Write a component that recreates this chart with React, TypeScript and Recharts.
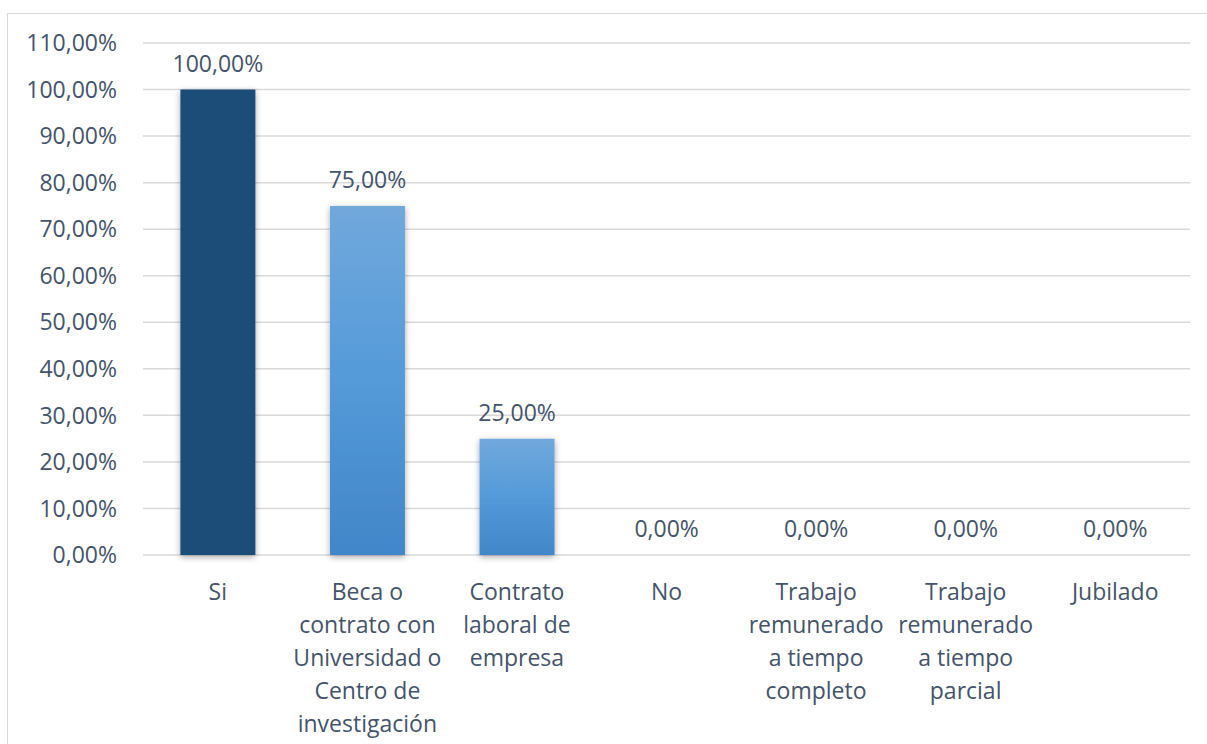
import { BarChart, Bar, XAxis, YAxis, CartesianGrid, Cell, LabelList } from "recharts";

const categories = [
  "Si",
  "Beca o\ncontrato con\nUniversidad o\nCentro de\ninvestigación",
  "Contrato\nlaboral de\nempresa",
  "No",
  "Trabajo\nremunerado\na tiempo\ncompleto",
  "Trabajo\nremunerado\na tiempo\nparcial",
  "Jubilado",
];
const values = [1.0, 0.75, 0.25, 0, 0, 0, 0];
const yTicks = [0, 0.1, 0.2, 0.3, 0.4, 0.5, 0.6, 0.7, 0.8, 0.9, 1.0, 1.1];

const data = categories.map((name, i) => ({ name, value: values[i] }));

const TEXT = "#44546A";
const FONT = "'Open Sans', sans-serif";

const fmt = (v: number) => (v * 100).toFixed(2).replace(".", ",") + "%";

function CategoryTick(props: any) {
  const { x, y, payload } = props;
  const lines = String(payload.value).split("\n");
  return (
    <text x={x} y={y} textAnchor="middle" fill={TEXT} fontSize={23} fontFamily={FONT}>
      {lines.map((line, i) => (
        <tspan key={i} x={x} dy={i === 0 ? 37 : 33}>
          {line}
        </tspan>
      ))}
    </text>
  );
}

export default function App() {
  return (
    <div style={{ position: "absolute", left: 0, top: 0, width: 1207, height: 744, overflow: "hidden", background: "#fff" }}>
      <div style={{ position: "absolute", left: 7, top: 13, width: 1230, height: 760, border: "1px solid #d9d9d9" }} />
      <div style={{ position: "absolute", left: 0, top: 0 }}>
        <BarChart
          width={1207}
          height={744}
          data={data}
          margin={{ top: 43, right: 17, bottom: 159, left: 0 }}
          barCategoryGap="25%"
        >
          <defs>
            <linearGradient id="lightBlue" x1="0" y1="0" x2="0" y2="1">
              <stop offset="0%" stopColor="#71A8DC" />
              <stop offset="50%" stopColor="#549AD9" />
              <stop offset="100%" stopColor="#4186C8" />
            </linearGradient>
            <filter id="barShadow" x="-20%" y="-10%" width="140%" height="120%">
              <feDropShadow dx="0" dy="2" stdDeviation="3" floodColor="#000" floodOpacity="0.35" />
            </filter>
          </defs>
          <CartesianGrid vertical={false} stroke="#d9d9d9" strokeWidth={1.5} />
          <XAxis
            dataKey="name"
            axisLine={false}
            tickLine={false}
            interval={0}
            height={30}
            tick={<CategoryTick />}
          />
          <YAxis
            width={143}
            domain={[0, 1.1]}
            ticks={yTicks}
            tickFormatter={fmt}
            axisLine={false}
            tickLine={false}
            tickSize={0}
            tickMargin={26}
            tick={{ fill: TEXT, fontSize: 23, fontFamily: FONT }}
            interval={0}
          />
          <Bar dataKey="value" isAnimationActive={false} minPointSize={0.001}>
            {data.map((d, i) => (
              <Cell
                key={d.name}
                fill={i === 0 ? "#1F4E79" : "url(#lightBlue)"}
                filter={d.value > 0 ? "url(#barShadow)" : undefined}
              />
            ))}
            <LabelList
              dataKey="value"
              position="top"
              offset={18}
              formatter={(v: any) => fmt(Number(v))}
              fill={TEXT}
              fontSize={23}
              fontFamily={FONT}
            />
          </Bar>
        </BarChart>
      </div>
    </div>
  );
}
